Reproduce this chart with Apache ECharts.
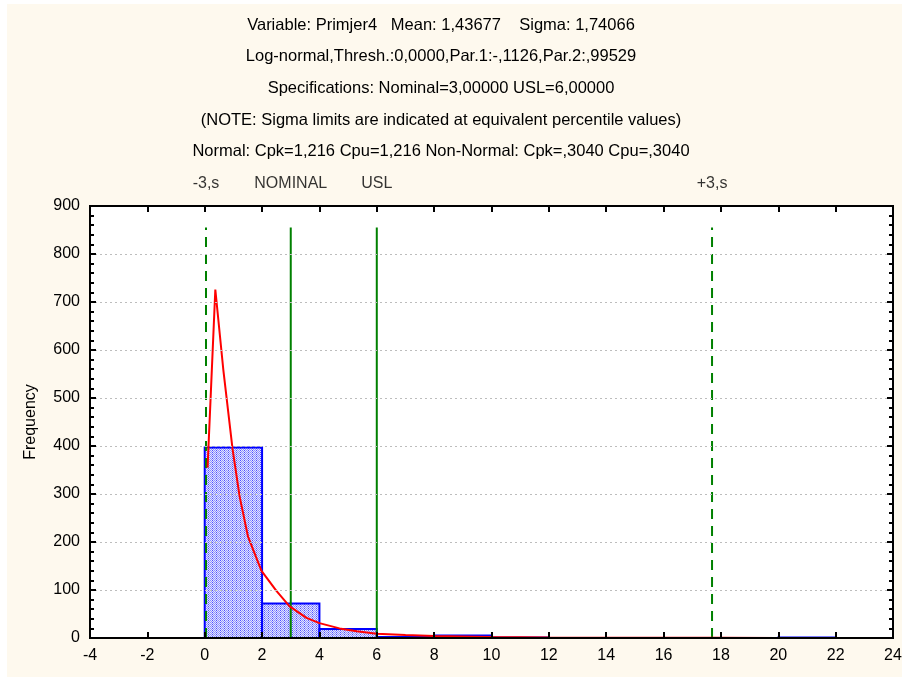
<!DOCTYPE html>
<html>
<head>
<meta charset="utf-8">
<script src="https://cdn.jsdelivr.net/npm/echarts@6/dist/echarts.min.js"></script>
<style>
  html, body { margin: 0; padding: 0; background: #ffffff; }
  #frame { position: absolute; left: 7px; top: 4px; width: 895px; height: 673px; background: #fef9ee; }
  #chart { position: absolute; left: 0; top: 0; width: 909px; height: 680px; }
</style>
</head>
<body>
<div id="frame"></div>
<div id="chart"></div>
<script>
// Histogram bins (left edges, width 2) and their counts
const binStarts = [-4, -2, 0, 2, 4, 6, 8, 10, 12, 14, 16, 18, 20, 22];
const binWidth = 2;
const binCounts = [0, 0, 397, 72, 19, 2, 5, 1, 0, 0, 0, 0, 1, 0];

// Fitted log-normal curve, scaled to expected frequency
const curveX = [0.1, 0.37, 0.65, 0.97, 1.22, 1.51, 1.98, 2.5, 2.96, 3.55, 4.0, 4.7, 5.3, 6.0, 7.0, 8.0, 9.0, 10.0, 12.0, 14.0, 16.0, 18.0, 20.0, 22.0, 24.0];
const curveY = [355, 726, 558, 394, 294, 211, 140, 98, 66, 42, 31, 20, 14, 9, 6, 4, 3, 2, 1, 0.6, 0.4, 0.3, 0.2, 0.1, 0.1];

// Specification / sigma limit lines
const limitNames = ['-3,s', 'NOMINAL', 'USL', '+3,s'];
const limitValues = [0.045, 3, 6, 17.69];
const limitDashed = [true, false, false, true];
const limitTop = 855;

// Header lines
const headerLines = [
  'Variable: Primjer4   Mean: 1,43677    Sigma: 1,74066',
  'Log-normal,Thresh.:0,0000,Par.1:-,1126,Par.2:,99529',
  'Specifications: Nominal=3,00000 USL=6,00000',
  '(NOTE: Sigma limits are indicated at equivalent percentile values)',
  'Normal: Cpk=1,216 Cpu=1,216 Non-Normal: Cpk=,3040 Cpu=,3040'
];

// Axis ranges
const xMin = -4, xMax = 24, xStep = 2;
const yMin = 0, yMax = 900, yStep = 100;

// Plot rectangle margins
const gridLeft = 90, gridRight = 16, gridTop = 206, gridBottom = 42;
const chartWidth = 909;

const FONT = '"Liberation Sans", Arial, sans-serif';

// Small dithered blue fill for the histogram bars
function makePattern() {
  const c = document.createElement('canvas');
  c.width = 4; c.height = 4;
  const g = c.getContext('2d');
  g.fillStyle = '#e2e4ff';
  g.fillRect(0, 0, 4, 4);
  for (let y = 0; y < 4; y++) {
    for (let x = 0; x < 4; x++) {
      if ((x + y) % 2 === 0) {
        g.fillStyle = ((x + 2 * y) % 4 === 0) ? '#5050ff' : '#9092ff';
        g.fillRect(x, y, 1, 1);
      }
    }
  }
  return c;
}
const barPattern = { image: makePattern(), repeat: 'repeat' };

const chart = echarts.init(document.getElementById('chart'), null, { renderer: 'canvas' });

const histData = binStarts.map((s, i) => [s, s + binWidth, binCounts[i]]);
const curveData = curveX.map((x, i) => [x, curveY[i]]);

const limitSeries = limitValues.map((v, i) => ({
  type: 'line',
  data: [[v, 0], [v, limitTop]],
  showSymbol: false,
  silent: true,
  z: 4,
  lineStyle: { color: '#008000', width: 2, type: limitDashed[i] ? [10, 7] : 'solid' }
}));

const frameLine = { show: true, onZero: false, lineStyle: { color: '#000', width: 2 } };
const inTick = { show: true, inside: true, length: 6, lineStyle: { color: '#000', width: 2 } };
const inMinor = { show: true, splitNumber: 5, length: 4, lineStyle: { color: '#000', width: 2 } };
const plotWidth = chartWidth - gridLeft - gridRight;

const option = {
  animation: false,
  backgroundColor: 'transparent',
  textStyle: { fontFamily: FONT },
  graphic: headerLines.map((t, i) => ({
    type: 'text',
    x: 441,
    y: 25 + i * 31.7,
    style: {
      text: t,
      fill: '#000',
      font: '16.5px ' + FONT,
      align: 'center',
      verticalAlign: 'middle'
    }
  })),
  grid: {
    left: gridLeft, right: gridRight, top: gridTop, bottom: gridBottom,
    show: true,
    backgroundColor: '#ffffff',
    borderColor: '#000000',
    borderWidth: 2
  },
  xAxis: [
    {
      type: 'value', min: xMin, max: xMax, interval: xStep,
      position: 'bottom', z: 6,
      axisLine: frameLine,
      axisTick: inTick,
      axisLabel: { color: '#000', fontSize: 16, fontFamily: FONT, margin: 10 },
      splitLine: { show: false }
    },
    {
      type: 'value', min: xMin, max: xMax, interval: xStep,
      position: 'top', z: 6,
      axisLine: frameLine,
      axisTick: inTick,
      axisLabel: { show: false },
      splitLine: { show: false }
    }
  ],
  yAxis: [
    {
      type: 'value', min: yMin, max: yMax, interval: yStep,
      position: 'left', z: 6,
      name: 'Frequency', nameLocation: 'middle', nameGap: 51,
      nameTextStyle: { color: '#000', fontSize: 16, fontFamily: FONT },
      axisLine: frameLine,
      axisTick: { show: false },
      axisLabel: { color: '#000', fontSize: 16, fontFamily: FONT, margin: 10 },
      splitLine: { show: true, lineStyle: { color: '#bdbdbd', width: 1, type: [2, 3] } }
    },
    {
      type: 'value', min: yMin, max: yMax, interval: yStep,
      position: 'right', z: 6,
      axisLine: frameLine,
      axisTick: inTick,
      minorTick: inMinor,
      axisLabel: { show: false },
      splitLine: { show: false }
    },
    {
      // ticks along the left frame edge, pointing into the plot
      type: 'value', min: yMin, max: yMax, interval: yStep,
      position: 'right', offset: -plotWidth, z: 7,
      axisLine: frameLine,
      axisTick: { show: true, inside: false, length: 6, lineStyle: { color: '#000', width: 2 } },
      minorTick: inMinor,
      axisLabel: { show: false },
      splitLine: { show: false }
    }
  ],
  series: [
    {
      type: 'custom',
      z: 2,
      data: histData,
      encode: { x: [0, 1], y: 2 },
      renderItem: function (params, api) {
        const p0 = api.coord([api.value(0), api.value(2)]);
        const p1 = api.coord([api.value(1), 0]);
        return {
          type: 'rect',
          shape: { x: p0[0], y: p0[1], width: p1[0] - p0[0], height: p1[1] - p0[1] },
          style: { fill: barPattern, stroke: '#0000ff', lineWidth: 2 }
        };
      }
    },
    ...limitSeries,
    {
      type: 'line',
      data: curveData,
      showSymbol: false,
      smooth: false,
      z: 5,
      lineStyle: { color: '#ff0000', width: 2 }
    },
    {
      type: 'scatter',
      data: limitValues.map((v, i) => ({ value: [v, yMax], name: limitNames[i] })),
      symbolSize: 1,
      itemStyle: { color: 'rgba(0,0,0,0)' },
      silent: true,
      label: {
        show: true,
        position: 'top',
        distance: 14,
        formatter: p => p.name,
        color: '#000',
        fontSize: 16,
        fontFamily: FONT
      }
    }
  ]
};

chart.setOption(option);
</script>
</body>
</html>
